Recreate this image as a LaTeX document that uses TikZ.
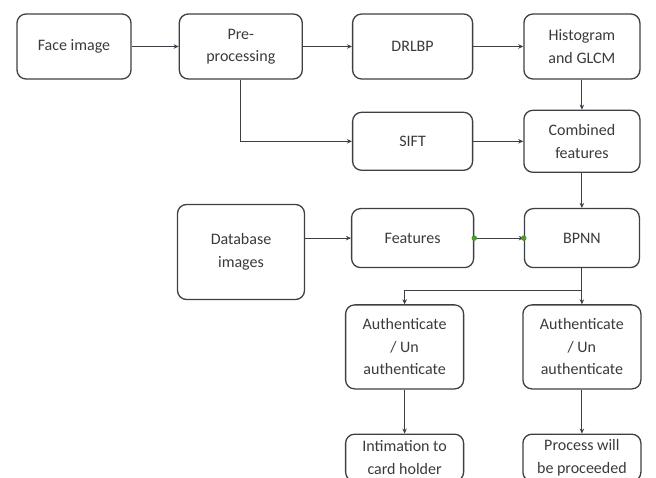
\documentclass[tikz,border=0pt]{standalone}
\usepackage{fontspec}
\setmainfont{Carlito}
\usetikzlibrary{arrows.meta,positioning,calc}
\definecolor{boxline}{HTML}{3C3F44}
\definecolor{txtgray}{HTML}{3A3A3A}
\definecolor{dotgreen}{HTML}{4E9A2C}

\begin{document}
\begin{tikzpicture}[
  x=1pt, y=1pt,
  block/.style={rectangle, draw=boxline, line width=1.3pt, rounded corners=9pt,
                align=center, inner sep=2pt, text=txtgray,
                font=\fontsize{16}{22.5}\selectfont},
  arrow/.style={-{Stealth[length=5pt,width=4.5pt]}, line width=0.9pt, draw=boxline},
  link/.style={line width=0.9pt, draw=boxline},
  pin/.style={circle, fill=dotgreen, inner sep=0pt, minimum size=5.5pt}
]
  \useasboundingbox (0,0) rectangle (656,-478);

  % Top row
  \node[block, minimum width=114pt, minimum height=65pt] (face) at (74,-46.5) {Face image};
  \node[block, minimum width=123pt, minimum height=65pt, right=47pt of face] (pre) {Pre-\\processing};
  \node[block, minimum width=120pt, minimum height=65pt, right=49pt of pre] (drlbp) {DRLBP};
  \node[block, minimum width=116pt, minimum height=65pt, right=50pt of drlbp] (hist) {Histogram\\and GLCM};

  % Second row
  \node[block, minimum width=120pt, minimum height=58pt, below=32pt of drlbp] (sift) {SIFT};
  \node[block, minimum width=116pt, minimum height=62pt] (comb) at (hist |- sift) {Combined\\features};

  % Third row
  \node[block, minimum width=122pt, minimum height=59pt, below=37pt of sift] (feat) {Features};
  \node[block, minimum width=115pt, minimum height=59pt] (bpnn) at (comb |- feat) {BPNN};
  \node[block, minimum width=127pt, minimum height=95pt] (db) at (241,-252) {Database\\images};

  % Decision boxes
  \node[block, minimum width=118pt, minimum height=84pt, below=36pt of bpnn] (auth2) {Authenticate\\/ Un\\authenticate};
  \node[block, minimum width=118pt, minimum height=84pt, left=58pt of auth2] (auth1) {Authenticate\\/ Un\\authenticate};
  \node[block, minimum width=118pt, minimum height=47pt, below=44pt of auth1] (intim) {Intimation to\\card holder};
  \node[block, minimum width=118pt, minimum height=47pt, below=44pt of auth2] (proc) {Process will\\be proceeded};

  % Connectors
  \draw[arrow] (face) -- (pre);
  \draw[arrow] (pre) -- (drlbp);
  \draw[arrow] (drlbp) -- (hist);
  \draw[arrow] (hist) -- (comb);
  \draw[arrow] (pre.south) |- (sift.west);
  \draw[arrow] (sift) -- (comb);
  \draw[arrow] (comb) -- (bpnn);
  \draw[arrow] (db.east |- feat) -- (feat);
  \draw[arrow] (feat) -- (bpnn);
  \node[pin] (featpin) at (feat.east) {};
  \node[pin] (bpnnpin) at (bpnn.west) {};

  % Split below BPNN
  \coordinate (split) at ($(bpnn.south)+(0,-22)$);
  \draw[link] (bpnn.south) -- (split);
  \draw[arrow] (split) -| (auth1.north);
  \draw[arrow] (split) -- (auth2.north);
  \draw[arrow] (auth1) -- (intim);
  \draw[arrow] (auth2) -- (proc);
\end{tikzpicture}
\end{document}
